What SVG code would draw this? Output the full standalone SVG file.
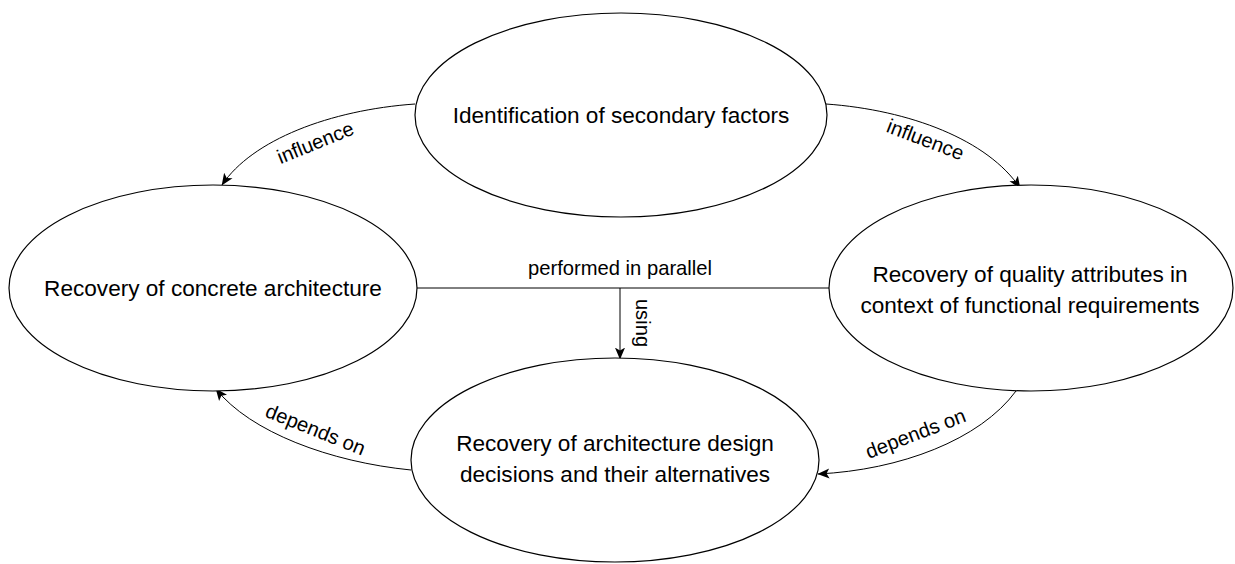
<svg xmlns="http://www.w3.org/2000/svg" width="1235" height="564" viewBox="0 0 1235 564">
  <style>
    .node { fill: #ffffff; stroke: #000000; stroke-width: 1.2; }
    .ntext { font-family: "Liberation Sans", Arial, sans-serif; font-size: 22.6px; fill: #000000; text-anchor: middle; }
    .edge { fill: none; stroke: #000000; stroke-width: 1; }
    .arrow { marker-end: url(#tip); }
    .etext { font-family: "Liberation Sans", Arial, sans-serif; font-size: 20.2px; fill: #000000; text-anchor: middle; }
  </style>
  <defs>
    <marker id="tip" markerUnits="userSpaceOnUse" markerWidth="12" markerHeight="12" viewBox="0 0 10 10" refX="9.5" refY="5" orient="auto">
      <path d="M0,0.8 L10,5 L0,9.2 L2.4,5 Z" fill="#000000"/>
    </marker>
  </defs>
  <rect width="1235" height="564" fill="#ffffff"/>

  <!-- connectors -->
  <g id="connectors">
    <path class="edge arrow" d="M415,104 C330,110 252,140 222,185"/>
    <text class="etext" transform="translate(318,149) rotate(-22)">influence</text>

    <path class="edge arrow" d="M826,104 C910,110 988,140 1020,188"/>
    <text class="etext" transform="translate(923,146) rotate(21)">influence</text>

    <path class="edge" d="M417,288 L829,288"/>
    <text class="etext" x="620" y="275">performed in parallel</text>

    <path class="edge arrow" d="M620,288 L620,359"/>
    <text class="etext" transform="translate(636,323) rotate(90)">using</text>

    <path class="edge arrow" d="M411,470 C330,462 250,432 216,389"/>
    <text class="etext" transform="translate(313,436) rotate(22)">depends on</text>

    <path class="edge arrow" d="M1016,391 C980,440 900,470 818,474"/>
    <text class="etext" transform="translate(918,440) rotate(-21)">depends on</text>
  </g>

  <!-- nodes -->
  <g id="node-secondary-factors">
    <ellipse class="node" cx="621" cy="115" rx="206" ry="102"/>
    <text class="ntext" x="621" y="123">Identification of secondary factors</text>
  </g>
  <g id="node-concrete-architecture">
    <ellipse class="node" cx="213" cy="288" rx="204" ry="103"/>
    <text class="ntext" x="213" y="296">Recovery of concrete architecture</text>
  </g>
  <g id="node-quality-attributes">
    <ellipse class="node" cx="1031" cy="288" rx="202" ry="103"/>
    <text class="ntext" x="1030" y="282">Recovery of quality attributes in</text>
    <text class="ntext" x="1030" y="313">context of functional requirements</text>
  </g>
  <g id="node-design-decisions">
    <ellipse class="node" cx="615" cy="460" rx="204" ry="102"/>
    <text class="ntext" x="615" y="451">Recovery of architecture design</text>
    <text class="ntext" x="615" y="482">decisions and their alternatives</text>
  </g>
</svg>
